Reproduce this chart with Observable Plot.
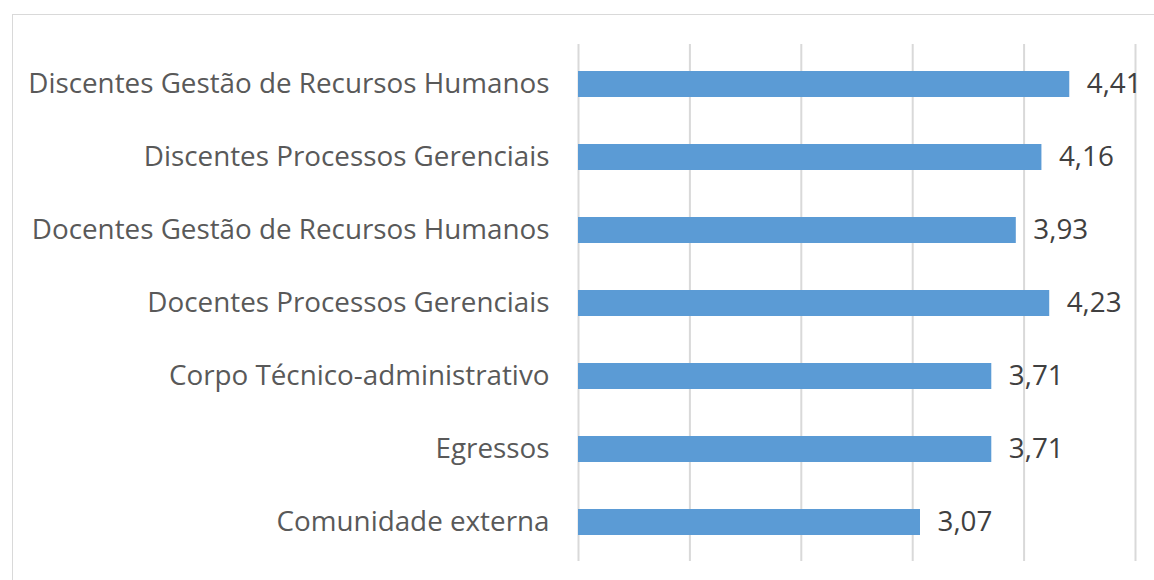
<!DOCTYPE html>
<html><head><meta charset="utf-8">
<script src="https://cdn.jsdelivr.net/npm/d3@7"></script>
<script src="https://cdn.jsdelivr.net/npm/@observablehq/plot@0.6"></script>
<style>
body{margin:0;background:#fff;}
#wrap{position:relative;width:1154px;height:580px;overflow:hidden;}
#border{position:absolute;left:12px;top:14px;width:1200px;height:600px;border:1.5px solid #d9d9d9;}
#chart{position:absolute;left:0;top:0;}
</style></head>
<body><div id="wrap"><div id="border"></div><div id="chart"></div></div>
<script>
const categories = [
  "Discentes Gestão de Recursos Humanos",
  "Discentes Processos Gerenciais",
  "Docentes Gestão de Recursos Humanos",
  "Docentes Processos Gerenciais",
  "Corpo Técnico-administrativo",
  "Egressos",
  "Comunidade externa"
];
const values = [4.41, 4.16, 3.93, 4.23, 3.71, 3.71, 3.07];
const valueLabels = ["4,41", "4,16", "3,93", "4,23", "3,71", "3,71", "3,07"];
const xTicks = [0, 1, 2, 3, 4, 5];

const data = categories.map((c, i) => ({category: c, value: values[i], label: valueLabels[i]}));

const plot = Plot.plot({
  width: 1154, height: 580,
  marginLeft: 578, marginRight: 19, marginTop: 44, marginBottom: 19,
  style: {fontFamily: "'Open Sans', sans-serif", background: "transparent"},
  x: {domain: [0, 5], axis: null},
  y: {domain: categories, paddingInner: 0.65, paddingOuter: 0.325, axis: null},
  marks: [
    Plot.ruleX(xTicks, {stroke: "#d9d9d9", strokeWidth: 2}),
    Plot.barX(data, {x: "value", y: "category", fill: "#5b9bd5"}),
    Plot.text(data, {x: "value", y: "category", text: "label", dx: 17, textAnchor: "start", fontSize: 27.8, fill: "#404040"}),
    Plot.axisY({tickSize: 0, tickPadding: 29, fontSize: 27.8, color: "#595959", label: null})
  ]
});
document.getElementById("chart").appendChild(plot);
</script>
</body></html>
